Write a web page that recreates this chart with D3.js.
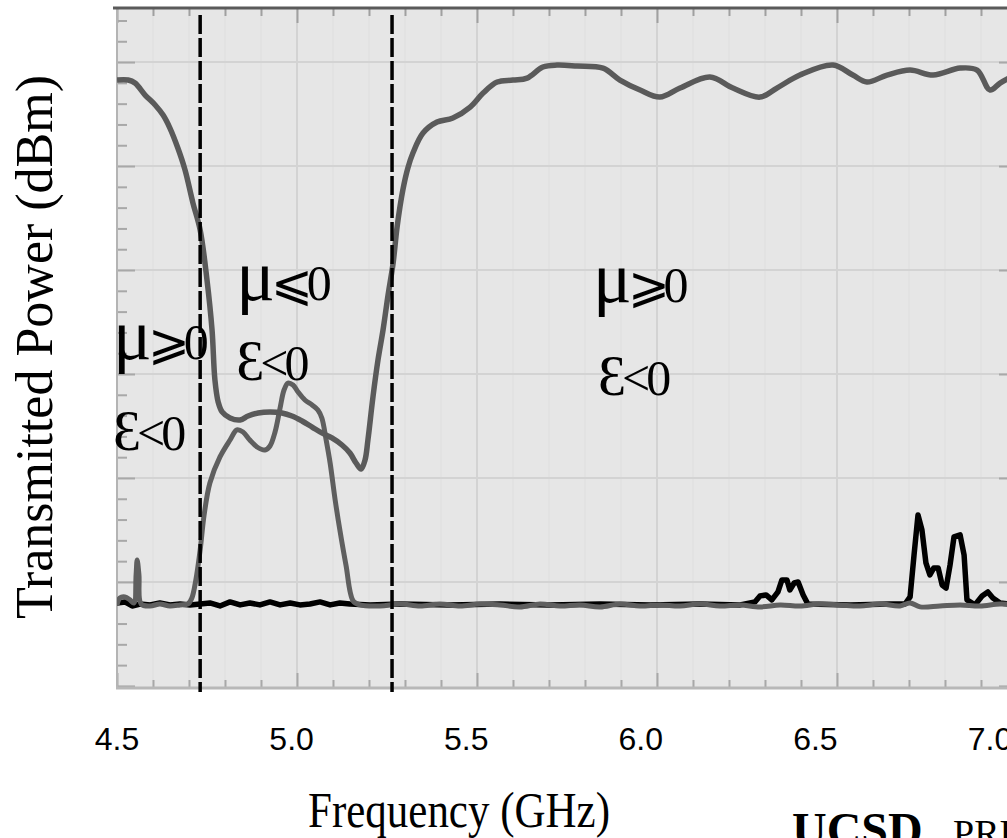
<!DOCTYPE html>
<html>
<head>
<meta charset="utf-8">
<script src="https://cdn.jsdelivr.net/npm/d3@7"></script>
<style>
  html, body { margin: 0; padding: 0; background: #fff; }
  svg { display: block; }
  .serif { font-family: "Liberation Serif", "Times New Roman", "DejaVu Serif", serif; }
  .sans { font-family: "Liberation Sans", Arial, sans-serif; }
</style>
</head>
<body>
<div id="chart"></div>
<script>
// dane: [GHz, dBm]
const dipCurve = [
  [4.500, -1.73], [4.531, -1.73], [4.550, -2.02], [4.578, -3.17], [4.606, -4.13],
  [4.628, -5.10], [4.647, -6.35], [4.669, -8.27], [4.689, -10.38], [4.711, -13.56],
  [4.731, -16.15], [4.750, -20.96], [4.764, -25.77], [4.772, -30.58], [4.781, -32.69],
  [4.792, -33.65], [4.814, -34.23], [4.842, -34.42], [4.864, -34.04], [4.892, -33.75],
  [4.925, -33.65], [4.958, -33.75], [4.986, -34.04], [5.014, -34.52], [5.042, -35.10],
  [5.069, -35.67], [5.097, -36.15], [5.125, -36.83], [5.147, -37.60], [5.164, -38.56],
  [5.178, -39.13], [5.189, -38.27], [5.197, -36.35], [5.211, -32.21], [5.225, -28.65],
  [5.239, -25.77], [5.253, -22.40], [5.267, -19.33], [5.278, -15.87], [5.294, -12.31],
  [5.308, -10.19], [5.322, -8.75], [5.350, -6.83], [5.389, -5.77], [5.433, -5.38],
  [5.481, -4.33], [5.517, -2.98], [5.556, -1.92], [5.600, -1.73], [5.639, -1.54],
  [5.683, -0.48], [5.722, -0.29], [5.778, -0.38], [5.850, -0.58], [5.897, -1.73],
  [5.953, -2.69], [6.008, -3.37], [6.064, -2.50], [6.147, -1.44], [6.211, -2.50],
  [6.286, -3.37], [6.333, -2.50], [6.397, -1.25], [6.489, -0.29], [6.544, -1.25],
  [6.583, -1.92], [6.639, -1.25], [6.703, -0.77], [6.767, -1.25], [6.842, -0.58],
  [6.889, -0.77], [6.925, -2.69], [6.953, -2.02], [7.000, -1.15]
];

const passCurve = [
  [4.500, -52.21], [4.508, -51.54], [4.522, -51.44], [4.536, -51.73], [4.547, -52.02],
  [4.553, -49.33], [4.556, -47.88], [4.561, -49.33], [4.567, -52.12], [4.592, -52.31],
  [4.619, -52.12], [4.647, -52.31], [4.675, -52.21], [4.697, -52.12], [4.708, -51.54],
  [4.719, -49.81], [4.731, -46.92], [4.742, -43.56], [4.758, -40.48], [4.786, -37.98],
  [4.814, -36.35], [4.833, -35.38], [4.850, -35.58], [4.869, -36.35], [4.889, -37.02],
  [4.911, -37.31], [4.925, -36.92], [4.939, -35.58], [4.953, -33.27], [4.964, -31.54],
  [4.975, -30.87], [4.989, -31.06], [5.003, -31.73], [5.022, -32.50], [5.042, -32.98],
  [5.058, -33.46], [5.069, -34.23], [5.081, -36.35], [5.092, -38.56], [5.106, -42.12],
  [5.119, -45.00], [5.136, -48.37], [5.156, -51.83], [5.175, -52.21], [5.231, -52.31],
  [5.286, -52.12], [5.342, -52.31], [5.397, -52.12], [5.453, -52.31], [5.508, -52.12],
  [5.564, -52.21], [5.619, -52.40], [5.675, -52.12], [5.731, -52.31], [5.786, -52.21],
  [5.842, -52.40], [5.897, -52.12], [5.953, -52.31], [6.008, -52.21], [6.064, -52.31],
  [6.119, -52.12], [6.175, -52.31], [6.231, -52.21], [6.286, -52.40], [6.342, -52.21],
  [6.397, -52.31], [6.453, -52.12], [6.508, -52.21], [6.564, -52.31], [6.619, -52.12],
  [6.675, -52.31], [6.703, -52.02], [6.731, -52.40], [6.786, -52.31], [6.842, -52.21],
  [6.897, -52.31], [6.953, -52.12], [7.000, -52.21]
];

const blackCurve = [
  [4.500, -52.02], [4.522, -51.92], [4.542, -52.31], [4.564, -52.12], [4.592, -52.21],
  [4.619, -52.02], [4.647, -52.21], [4.675, -52.12], [4.703, -52.21], [4.731, -52.12],
  [4.758, -52.02], [4.786, -52.31], [4.814, -51.92], [4.842, -52.21], [4.869, -52.02],
  [4.897, -52.21], [4.925, -51.92], [4.953, -52.21], [4.981, -52.02], [5.008, -52.21],
  [5.036, -52.12], [5.064, -51.92], [5.092, -52.21], [5.119, -52.02], [5.147, -52.12],
  [5.203, -52.21], [5.286, -52.12], [5.425, -52.21], [5.564, -52.12], [5.703, -52.21],
  [5.842, -52.12], [5.981, -52.21], [6.119, -52.12], [6.231, -52.21], [6.272, -51.92],
  [6.286, -51.35], [6.303, -51.25], [6.319, -51.73], [6.336, -50.96], [6.347, -49.81],
  [6.361, -49.81], [6.369, -50.77], [6.381, -50.10], [6.392, -50.00], [6.406, -51.25],
  [6.419, -52.12], [6.536, -52.21], [6.647, -52.12], [6.689, -52.12], [6.703, -51.44],
  [6.714, -47.40], [6.725, -43.56], [6.736, -45.00], [6.747, -48.17], [6.758, -49.33],
  [6.769, -48.65], [6.781, -48.65], [6.792, -50.29], [6.803, -50.58], [6.814, -48.37],
  [6.825, -45.67], [6.842, -45.48], [6.853, -47.40], [6.861, -51.73], [6.883, -52.21],
  [6.903, -51.35], [6.919, -50.96], [6.933, -51.54], [6.953, -52.02], [7.000, -52.21]
];

const bandEdges = [4.731, 5.264];
const xTickLabels = ["4.5", "5.0", "5.5", "6.0", "6.5", "7.0"];

// adnotacje obszarów: pierwszy znak (mu / epsilon) + reszta
const regionLabels = [
  { f: 4.489, v: -28.6, head: "\u03bc", tail: "\u2a7e0" },
  { f: 4.489, v: -37.3, head: "\u0190", tail: "<0" },
  { f: 4.831, v: -22.9, head: "\u03bc", tail: "\u2a7d0" },
  { f: 4.831, v: -30.6, head: "\u0190", tail: "<0" },
  { f: 5.822, v: -23.1, head: "\u03bc", tail: "\u2a7e0" },
  { f: 5.836, v: -32.0, head: "\u0190", tail: "<0" }
];

const W = 1007, H = 838;
const plot = { left: 117, right: 1017, top: 8, bottom: 688 };

const x = d3.scaleLinear().domain([4.5, 7.0]).range([plot.left, plot.right]);
const y = d3.scaleLinear().domain([-60.2, 5.2]).range([plot.bottom, plot.top]);
// etykiety osi X są w oryginale lekko przesunięte względem siatki
const xLabel = d3.scalePoint().domain(xTickLabels).range([117, 990]);

const svg = d3.select("#chart").append("svg")
  .attr("width", W).attr("height", H);

svg.append("defs").append("clipPath").attr("id", "clip")
  .append("rect")
  .attr("x", plot.left).attr("y", plot.top)
  .attr("width", plot.right - plot.left).attr("height", plot.bottom - plot.top);

// tło
svg.append("rect")
  .attr("x", plot.left).attr("y", plot.top)
  .attr("width", plot.right - plot.left).attr("height", plot.bottom - plot.top)
  .attr("fill", "#e6e6e6");

const minorX = d3.range(45, 71).map((d) => d / 10);
const majorX = [5.0, 5.5, 6.0, 6.5];
const minorY = d3.range(-60, 6, 2);
const majorY = [-50, -40, -30, -20, -10, 0];

// siatka
const grid = svg.append("g").attr("clip-path", "url(#clip)");
grid.selectAll("line.vminor").data(minorX).enter().append("line")
  .attr("x1", (d) => x(d)).attr("x2", (d) => x(d))
  .attr("y1", plot.top).attr("y2", plot.bottom)
  .attr("stroke", "#dedede").attr("stroke-width", 1);
grid.selectAll("line.vmajor").data(majorX).enter().append("line")
  .attr("x1", (d) => x(d)).attr("x2", (d) => x(d))
  .attr("y1", plot.top).attr("y2", plot.bottom)
  .attr("stroke", "#d3d3d3").attr("stroke-width", 2);
grid.selectAll("line.hmajor").data(majorY).enter().append("line")
  .attr("x1", plot.left).attr("x2", plot.right)
  .attr("y1", (d) => y(d)).attr("y2", (d) => y(d))
  .attr("stroke", "#d3d3d3").attr("stroke-width", 2);

// osie: tylko kreski, do środka
function isMajorX(d) { return Math.abs(d * 2 - Math.round(d * 2)) < 1e-6; }
function isMajorY(d) { return Math.abs(d / 10 - Math.round(d / 10)) < 1e-6; }

function styleAxis(g, color) {
  g.select(".domain").remove();
  g.selectAll("text").remove();
  g.selectAll(".tick line").attr("stroke", color).attr("stroke-width", 2);
}

svg.append("g")
  .attr("transform", `translate(0,${plot.top})`)
  .call(d3.axisTop(x).tickValues(minorX).tickSize(-8))
  .call((g) => styleAxis(g, "#a0a0a0"))
  .call((g) => g.selectAll(".tick line").filter(isMajorX).attr("y2", 15));

svg.append("g")
  .attr("transform", `translate(0,${plot.bottom})`)
  .call(d3.axisBottom(x).tickValues(minorX).tickSize(-8))
  .call((g) => styleAxis(g, "#a8a8a8"))
  .call((g) => g.selectAll(".tick line").filter(isMajorX).attr("y2", -15));

svg.append("g")
  .attr("transform", `translate(${plot.left},0)`)
  .call(d3.axisLeft(y).tickValues(minorY).tickSize(-10))
  .call((g) => styleAxis(g, "#a8a8a8"))
  .call((g) => g.selectAll(".tick line").filter(isMajorY).attr("x2", 18));

svg.append("g")
  .attr("transform", `translate(${plot.right},0)`)
  .call(d3.axisRight(y).tickValues(minorY).tickSize(-10))
  .call((g) => styleAxis(g, "#a8a8a8"))
  .call((g) => g.selectAll(".tick line").filter(isMajorY).attr("x2", -18));

// ramka
svg.append("line")
  .attr("x1", plot.left).attr("x2", plot.left)
  .attr("y1", plot.top).attr("y2", plot.bottom + 1)
  .attr("stroke", "#b4b4b4").attr("stroke-width", 2);
svg.append("line")
  .attr("x1", plot.left - 1).attr("x2", plot.right)
  .attr("y1", plot.bottom).attr("y2", plot.bottom)
  .attr("stroke", "#b8b8b8").attr("stroke-width", 3);
svg.append("line")
  .attr("x1", plot.left - 4).attr("x2", plot.right)
  .attr("y1", plot.top).attr("y2", plot.top)
  .attr("stroke", "#5a5a5a").attr("stroke-width", 3);

// krzywe
const line = d3.line()
  .x((d) => x(d[0]))
  .y((d) => y(d[1]));

const curves = svg.append("g").attr("clip-path", "url(#clip)");

curves.append("path")
  .datum(blackCurve)
  .attr("d", line.curve(d3.curveLinear))
  .attr("fill", "none")
  .attr("stroke", "#000")
  .attr("stroke-width", 5.5)
  .attr("stroke-linejoin", "round");

curves.append("path")
  .datum(passCurve)
  .attr("d", line.curve(d3.curveCatmullRom.alpha(0.5)))
  .attr("fill", "none")
  .attr("stroke", "#5f5f5f")
  .attr("stroke-width", 5)
  .attr("stroke-linejoin", "round");

curves.append("path")
  .datum(dipCurve)
  .attr("d", line.curve(d3.curveCatmullRom.alpha(0.5)))
  .attr("fill", "none")
  .attr("stroke", "#5a5a5a")
  .attr("stroke-width", 5.5)
  .attr("stroke-linejoin", "round");

// granice pasma (przerywane)
svg.append("g").selectAll("line").data(bandEdges).enter().append("line")
  .attr("x1", (d) => x(d)).attr("x2", (d) => x(d))
  .attr("y1", 15).attr("y2", 692)
  .attr("stroke", "#000")
  .attr("stroke-width", 3.5)
  .attr("stroke-dasharray", "19,4");

// napisy obszarów
const rl = svg.append("g").selectAll("text").data(regionLabels).enter().append("text")
  .attr("class", "serif")
  .attr("x", (d) => x(d.f))
  .attr("y", (d) => y(d.v))
  .attr("font-size", 50)
  .attr("fill", "#000");
rl.append("tspan")
  .attr("font-size", (d) => (d.head === "\u03bc" ? 72 : 56))
  .attr("letter-spacing", -4)
  .text((d) => d.head);
rl.append("tspan")
  .attr("letter-spacing", (d) => (d.head === "\u03bc" ? -6 : -4))
  .text((d) => d.tail);

// etykiety osi X
svg.append("g").selectAll("text").data(xTickLabels).enter().append("text")
  .attr("class", "sans")
  .attr("x", (d) => xLabel(d))
  .attr("y", 750)
  .attr("text-anchor", "middle")
  .attr("font-size", 32)
  .attr("fill", "#000")
  .text((d) => d);

// tytuły osi
svg.append("text")
  .attr("class", "serif")
  .attr("x", 459).attr("y", 827)
  .attr("text-anchor", "middle")
  .attr("font-size", 50)
  .attr("textLength", 302)
  .attr("lengthAdjust", "spacingAndGlyphs")
  .text("Frequency (GHz)");

svg.append("text")
  .attr("class", "serif")
  .attr("transform", "translate(52,347) rotate(-90)")
  .attr("text-anchor", "middle")
  .attr("font-size", 52)
  .text("Transmitted Power (dBm)");

// podpis w rogu (obcięty jak w oryginale)
svg.append("text")
  .attr("class", "serif")
  .attr("x", 792).attr("y", 846)
  .attr("font-size", 48)
  .attr("font-weight", "bold")
  .text("UCSD");
svg.append("text")
  .attr("class", "serif")
  .attr("x", 953).attr("y", 846)
  .attr("font-size", 38)
  .text("PRL");
</script>
</body>
</html>
